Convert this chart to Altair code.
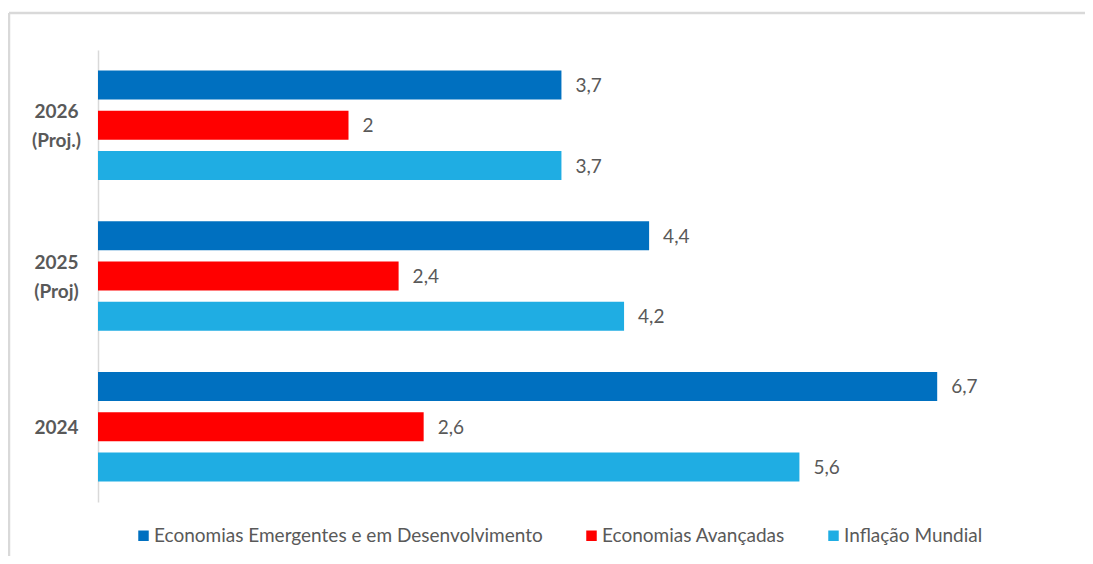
import altair as alt
import pandas as pd

categories = ["2026\n(Proj.)", "2025\n(Proj)", "2024"]
series = [
    "Economias Emergentes e em Desenvolvimento",
    "Economias Avançadas",
    "Inflação Mundial",
]
emergentes = [3.7, 4.4, 6.7]
avancadas = [2.0, 2.4, 2.6]
mundial = [3.7, 4.2, 5.6]
colors = ["#0070C0", "#FF0000", "#1FADE3"]

rows = []
for i, c in enumerate(categories):
    for s, vals in zip(series, [emergentes, avancadas, mundial]):
        rows.append({"ano": c, "serie": s, "valor": vals[i]})
df = pd.DataFrame(rows)

FONT = "Lato"
GRAY = "#595959"

y_enc = alt.Y(
    "ano:N",
    sort=categories,
    scale=alt.Scale(paddingInner=0, paddingOuter=0),
    axis=alt.Axis(
        title=None,
        ticks=False,
        domainColor="#D9D9D9",
        domainWidth=1.5,
        labelAlign="center",
        labelPadding=42,
        labelFont=FONT,
        labelFontSize=19,
        labelFontWeight="bold",
        labelColor=GRAY,
        labelLineHeight=29,
        labelOffset={
            "condition": {"test": "indexof(datum.value, '\\n') >= 0", "value": -13},
            "value": 1,
        },
        labelExpr="split(datum.label, '\\n')",
    ),
)
yoff = alt.YOffset(
    "serie:N",
    sort=series,
    scale=alt.Scale(paddingInner=0.28, paddingOuter=0.51),
)
x_enc = alt.X(
    "valor:Q",
    scale=alt.Scale(domain=[0, 7.88], nice=False),
    axis=None,
)

base = alt.Chart(df)

bars = base.mark_bar().encode(
    x=x_enc,
    y=y_enc,
    yOffset=yoff,
    color=alt.Color(
        "serie:N",
        sort=series,
        scale=alt.Scale(domain=series, range=colors),
        legend=alt.Legend(
            title=None,
            orient="none",
            legendX=36,
            legendY=476,
            direction="horizontal",
            padding=0,
            symbolType="square",
            symbolSize=110,
            symbolStrokeWidth=0,
            labelFont=FONT,
            labelFontSize=19,
            labelColor=GRAY,
            labelOffset=1,
            columnPadding=39,
            labelLimit=600,
        ),
    ),
)

labels = base.transform_calculate(
    txt="replace(format(datum.valor, '.1~f'), '.', ',')"
).mark_text(
    align="left", baseline="middle", dx=14, dy=1, font=FONT, fontSize=19, color=GRAY
).encode(
    x=x_enc,
    y=y_enc,
    yOffset=yoff,
    text="txt:N",
)

frame_top = alt.Chart(pd.DataFrame({"k": [0]})).mark_rule(
    color="#D9D9D9", strokeWidth=2.5
).encode(x=alt.value(-89), x2=alt.value(1000), y=alt.value(-37))
frame_left = alt.Chart(pd.DataFrame({"k": [0]})).mark_rule(
    color="#D9D9D9", strokeWidth=2.5
).encode(x=alt.value(-89), y=alt.value(-37), y2=alt.value(600))

chart = (
    alt.layer(frame_top, frame_left, bars, labels)
    .properties(
        width=987,
        height=452,
        autosize=alt.AutoSizeParams(type="none"),
        padding={"left": 90, "top": 42, "right": 0, "bottom": 54},
        background="white",
    )
    .configure_view(stroke=None)
)

chart.save("out.html", embed_options={"renderer": "svg", "actions": False})
